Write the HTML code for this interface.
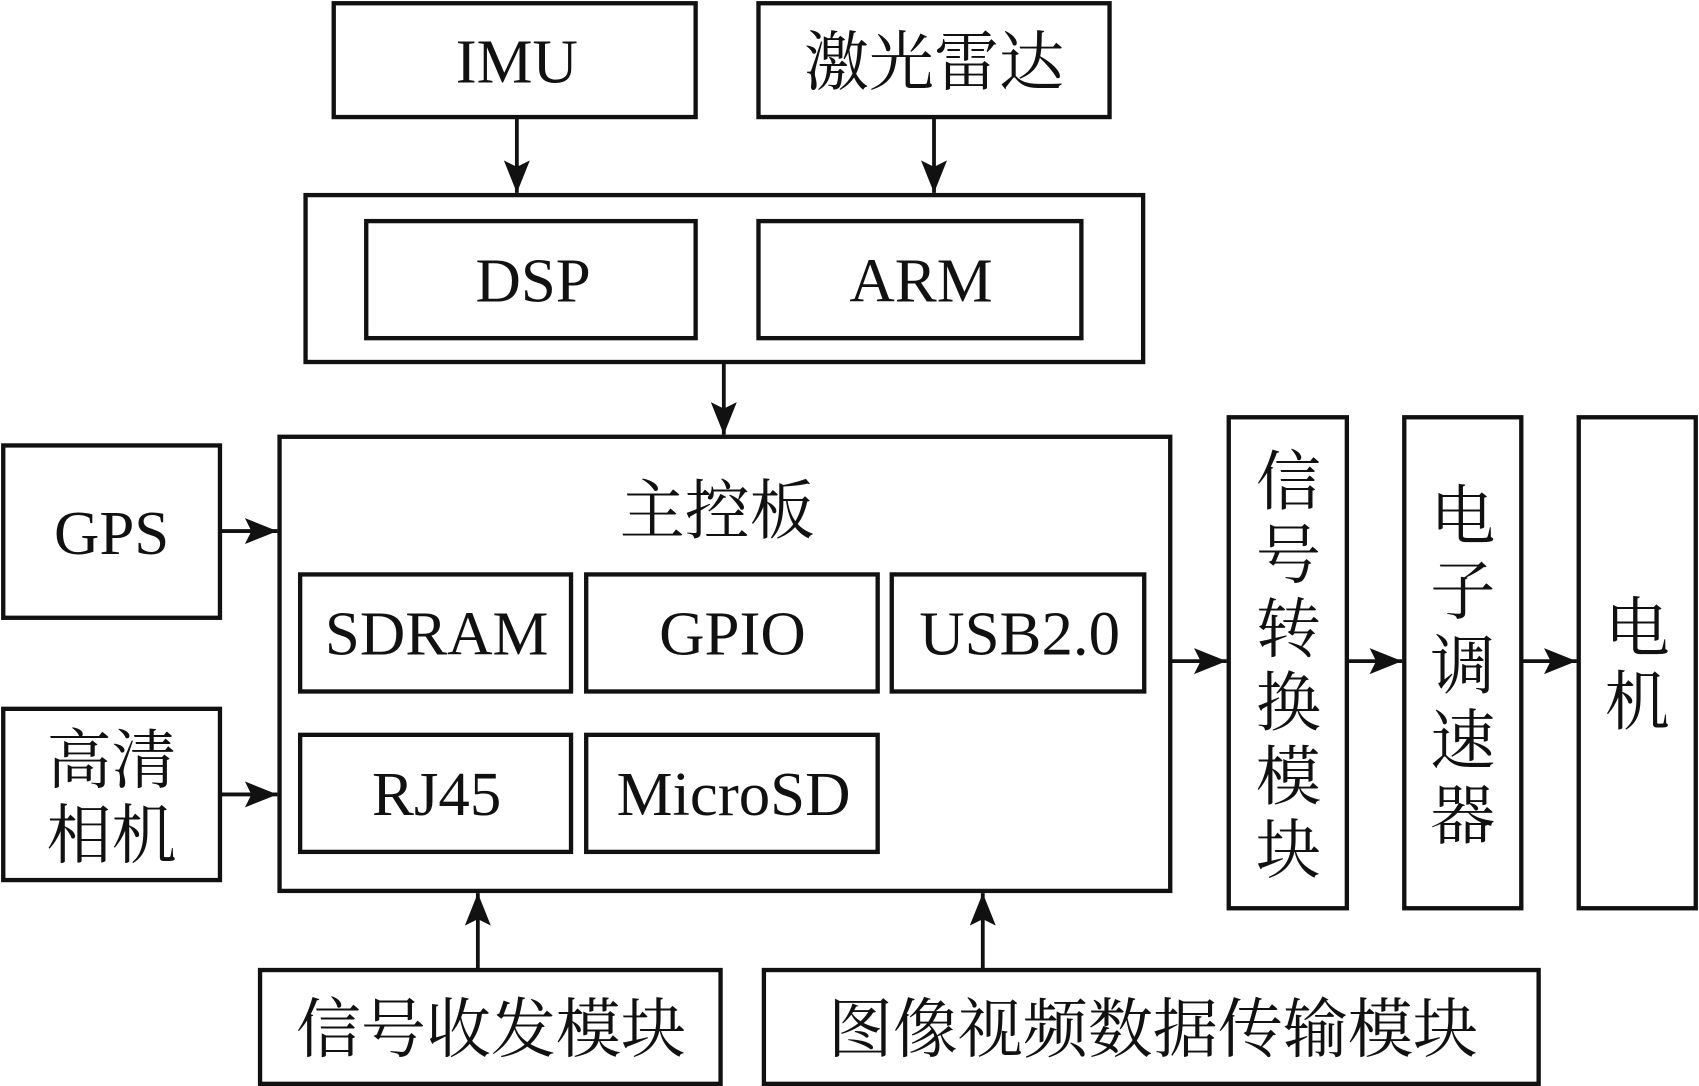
<!DOCTYPE html>
<html><head><meta charset="utf-8"><style>
html,body{margin:0;padding:0;background:#fff;}
svg{display:block;}
text{font-family:"Liberation Serif","Noto Serif CJK SC","Noto Sans CJK SC",serif;fill:#111;}
</style></head><body>
<svg width="1699" height="1086" viewBox="0 0 1568 1002" preserveAspectRatio="none" xmlns="http://www.w3.org/2000/svg">
<defs><marker id="a" markerWidth="10" markerHeight="10" refX="9" refY="5" orient="auto" markerUnits="userSpaceOnUse" viewBox="0 0 10 10"><path d="M0,0 L10,5 L0,10 z" fill="#111"/></marker>
<marker id="b" viewBox="0 0 30 24" refX="30" refY="12" markerWidth="30" markerHeight="24" orient="auto" markerUnits="userSpaceOnUse"><path d="M0,0 L30,12 L0,24 L6,12 z" fill="#111"/></marker></defs>
<g fill="none" stroke="#111" stroke-width="4">
<rect x="308" y="3" width="334" height="105"/>
<rect x="700" y="3" width="324" height="105"/>
<rect x="282" y="180" width="773" height="154"/>
<rect x="338" y="204" width="304" height="108"/>
<rect x="700" y="204" width="298" height="108"/>
<rect x="258" y="403" width="822" height="419"/>
<rect x="277" y="530" width="250" height="108"/>
<rect x="541" y="530" width="269" height="108"/>
<rect x="823" y="530" width="233" height="108"/>
<rect x="277" y="678" width="250" height="108"/>
<rect x="541" y="678" width="269" height="108"/>
<rect x="3" y="411" width="200" height="159"/>
<rect x="3" y="654" width="200" height="158"/>
<rect x="1134" y="385" width="109" height="453"/>
<rect x="1296" y="385" width="108" height="453"/>
<rect x="1457" y="385" width="108" height="453"/>
<rect x="240" y="895" width="425" height="105"/>
<rect x="705" y="895" width="715" height="105"/>
<g stroke-width="3.5" marker-end="url(#b)">
<line x1="477" y1="108" x2="477" y2="178"/>
<line x1="862" y1="108" x2="862" y2="178"/>
<line x1="668" y1="334" x2="668" y2="401"/>
<line x1="203" y1="490" x2="256" y2="490"/>
<line x1="203" y1="733" x2="256" y2="733"/>
<line x1="1080" y1="610" x2="1132" y2="610"/>
<line x1="1243" y1="610" x2="1294" y2="610"/>
<line x1="1404" y1="610" x2="1455" y2="610"/>
<line x1="441" y1="895" x2="441" y2="824"/>
<line x1="907" y1="895" x2="907" y2="824"/>
</g></g>
<g font-size="58" text-anchor="middle">
<text x="477" y="76">IMU</text>
<text x="862" y="78" font-size="60">激光雷达</text>
<text x="492" y="278">DSP</text>
<text x="850" y="278">ARM</text>
<text x="662" y="492" font-size="60">主控板</text>
<text x="403" y="604">SDRAM</text>
<text x="676" y="604">GPIO</text>
<text x="941" y="604">USB2.0</text>
<text x="403" y="752">RJ45</text>
<text x="677" y="752">MicroSD</text>
<text x="103" y="511">GPS</text>
<text x="103" y="722" font-size="60">高清</text>
<text x="103" y="791" font-size="60">相机</text>
<text x="453" y="970" font-size="60">信号收发模块</text>
<text x="1064" y="970" font-size="60">图像视频数据传输模块</text>
<g font-size="60">
<text x="1189" y="465">信</text><text x="1189" y="533">号</text><text x="1189" y="601">转</text><text x="1189" y="669">换</text><text x="1189" y="737">模</text><text x="1189" y="805">块</text>
<text x="1350" y="497">电</text><text x="1350" y="566">子</text><text x="1350" y="635">调</text><text x="1350" y="704">速</text><text x="1350" y="773">器</text>
<text x="1511" y="600">电</text><text x="1511" y="668">机</text>
</g></g>
</svg>
</body></html>
